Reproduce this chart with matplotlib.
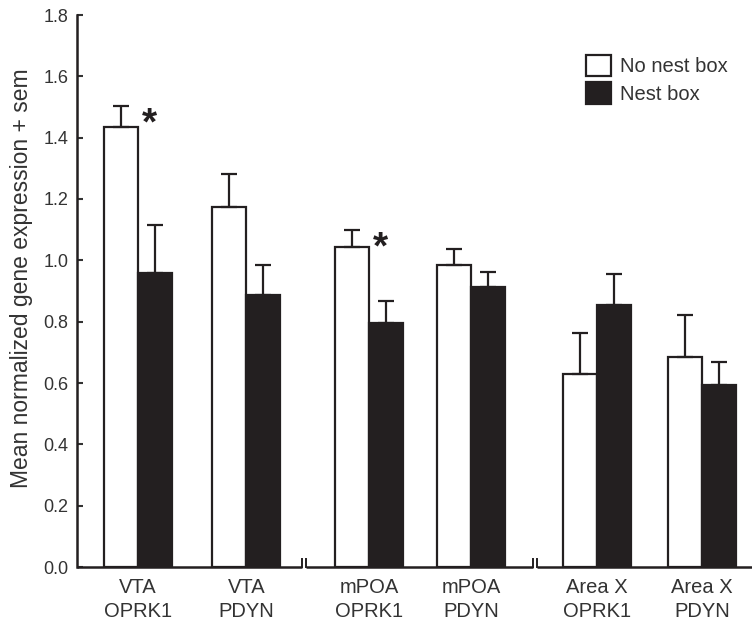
import matplotlib
matplotlib.use('Agg')
import matplotlib.pyplot as plt
from matplotlib.patches import Patch
import numpy as np

plt.rcParams['font.family'] = ['Liberation Sans', 'DejaVu Sans']

# data
labels = ['VTA\nOPRK1', 'VTA\nPDYN', 'mPOA\nOPRK1', 'mPOA\nPDYN', 'Area X\nOPRK1', 'Area X\nPDYN']
no_nest = [1.435, 1.174, 1.044, 0.984, 0.629, 0.684]
no_nest_sem = [0.069, 0.107, 0.055, 0.052, 0.133, 0.138]
nest = [0.958, 0.887, 0.797, 0.912, 0.855, 0.593]
nest_sem = [0.157, 0.098, 0.071, 0.050, 0.100, 0.074]
signif = [True, False, True, False, False, False]

# layout (x units = bar widths)
pos = np.array([1.8, 5.0, 8.6, 11.6, 15.3, 18.4])
breaks = [6.7, 13.5]
w = 1.0
ink = '#231f20'
txt = '#333333'

fig = plt.figure(figsize=(7.52, 6.28), dpi=100)
ax = fig.add_axes([76.5 / 752, 61 / 628, 1 - 76.5 / 752, 552 / 628])

ax.bar(pos - w / 2, no_nest, w, color='white', edgecolor=ink, linewidth=1.6,
       yerr=[np.zeros(6), no_nest_sem], error_kw=dict(ecolor=ink, elinewidth=1.6, capsize=6, capthick=1.6),
       label='No nest box', zorder=2)
ax.bar(pos + w / 2, nest, w, color=ink, edgecolor=ink, linewidth=1.6,
       yerr=[np.zeros(6), nest_sem], error_kw=dict(ecolor=ink, elinewidth=1.6, capsize=6, capthick=1.6),
       label='Nest box', zorder=2)

for i in range(6):
    if signif[i]:
        ax.text(pos[i] + 0.35, no_nest[i] + no_nest_sem[i] - 0.06, '*', fontsize=28,
                fontweight='bold', color=ink, ha='center', va='center')

ax.set_xlim(0, 19.87)
ax.set_ylim(0, 1.8)
ax.set_yticks(np.arange(0, 1.81, 0.2))
ax.set_yticklabels(['%.1f' % v for v in np.arange(0, 1.81, 0.2)])
ax.set_xticks(pos)
ax.set_xticklabels(labels)
ax.tick_params(axis='x', length=0, labelsize=14.5, colors=txt, pad=8)
ax.tick_params(axis='y', direction='in', length=4, width=1.5, labelsize=13, colors=txt, pad=6)
for lab in ax.get_xticklabels() + ax.get_yticklabels():
    lab.set_color(txt)
    lab.set_linespacing(1.35)
ax.set_ylabel('Mean normalized gene expression + sem', fontsize=16.5, color=txt)
ax.yaxis.set_label_coords(-0.064, 0.523)

for s in ['top', 'right', 'bottom']:
    ax.spines[s].set_visible(False)
ax.spines['left'].set_linewidth(1.8)
ax.spines['left'].set_color(ink)

# broken x axis
gap = 0.06
segs = [0] + [b for b in breaks for _ in (0, 1)] + [19.87]
for k in range(0, len(segs), 2):
    a, b = segs[k], segs[k + 1]
    if k > 0:
        a += gap
    if k + 2 < len(segs):
        b -= gap
    ax.plot([a, b], [0, 0], color=ink, lw=1.8, clip_on=False, solid_capstyle='butt', zorder=3)
for b in breaks:
    for d in (-gap, gap):
        ax.plot([b + d, b + d], [0, 0.025], color=ink, lw=1.4, clip_on=False, zorder=3)

handles = [Patch(facecolor='white', edgecolor=ink, linewidth=1.6, label='No nest box'),
           Patch(facecolor=ink, edgecolor=ink, linewidth=1.6, label='Nest box')]
fig.legend(handles=handles, loc='upper left', bbox_to_anchor=(586 / 752, 1 - 55 / 628),
           frameon=False, fontsize=14.5, handlelength=1.25, handleheight=1.25,
           handletextpad=0.45, labelspacing=0.3, borderpad=0, borderaxespad=0,
           labelcolor=txt)

fig.savefig('out.png', dpi=100)
